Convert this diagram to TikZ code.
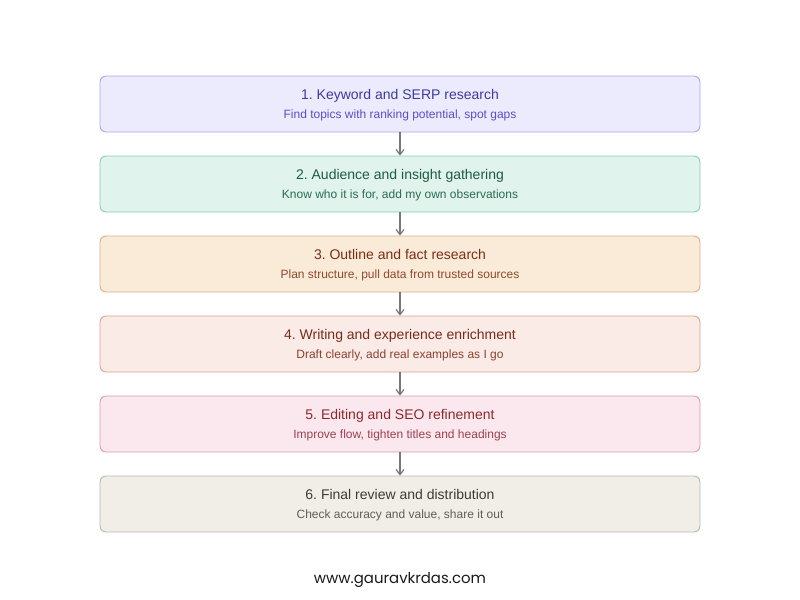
\documentclass[tikz,border=0pt]{standalone}
\usepackage{fontspec}
\setmainfont{Liberation Sans}
\newfontfamily\footfont{Poppins}
\usetikzlibrary{arrows.meta}
\frenchspacing
\definecolor{f1}{HTML}{ECEBFD}\definecolor{b1}{HTML}{ABA5EE}\definecolor{t1}{HTML}{3E3A9E}\definecolor{s1}{HTML}{5A4FC4}
\definecolor{f2}{HTML}{E0F3EC}\definecolor{b2}{HTML}{8DCAB2}\definecolor{t2}{HTML}{1D5C44}\definecolor{s2}{HTML}{2A6D52}
\definecolor{f3}{HTML}{FAEBD8}\definecolor{b3}{HTML}{D6AE90}\definecolor{t3}{HTML}{7A2E16}\definecolor{s3}{HTML}{8C4A2E}
\definecolor{f4}{HTML}{FAEBE6}\definecolor{b4}{HTML}{D4A494}\definecolor{t4}{HTML}{7A2A1C}\definecolor{s4}{HTML}{8A4232}
\definecolor{f5}{HTML}{FBE7EE}\definecolor{b5}{HTML}{D89CAE}\definecolor{t5}{HTML}{8A2A2E}\definecolor{s5}{HTML}{9A4252}
\definecolor{f6}{HTML}{F1EEE8}\definecolor{b6}{HTML}{BAB6AC}\definecolor{t6}{HTML}{3A3C36}\definecolor{s6}{HTML}{5E5E58}
\definecolor{arr}{HTML}{777777}
\tikzset{
  stepbox/.style={draw, rounded corners=4.5pt, minimum width=450pt, minimum height=42pt, line width=0.7pt, inner sep=0pt},
  ttl/.style={anchor=base, inner sep=0pt, font=\fontsize{10.5pt}{12pt}\selectfont},
  sub/.style={anchor=base, inner sep=0pt, font=\fontsize{9pt}{10pt}\selectfont},
  conn/.style={draw=arr, line width=0.9pt, -{Straight Barb[length=3.8pt,width=6pt]}}
}
\begin{document}
\begin{tikzpicture}[x=0.75pt,y=-0.75pt]
\useasboundingbox (0,0) rectangle (800,600);
\foreach \i/\ti/\su in {
 1/{1. Keyword and SERP research}/{Find topics with ranking potential, spot gaps},
 2/{2. Audience and insight gathering}/{Know who it is for, add my own observations},
 3/{3. Outline and fact research}/{Plan structure, pull data from trusted sources},
 4/{4. Writing and experience enrichment}/{Draft clearly, add real examples as I go},
 5/{5. Editing and SEO refinement}/{Improve flow, tighten titles and headings},
 6/{6. Final review and distribution}/{Check accuracy and value, share it out}}{
  \node[stepbox, draw=b\i, fill=f\i] (n\i) at (400,{104+80*(\i-1)}) {};
  \node[ttl, text=t\i] (t\i) at (400,{99+80*(\i-1)}) {\ti};
  \node[sub, text=s\i] (s\i) at (400,{118+80*(\i-1)}) {\su};
}
\foreach \a/\b in {1/2,2/3,3/4,4/5,5/6}{
  \draw[conn] (n\a.south) -- (n\b.north);
}
\node[anchor=base, inner sep=0pt, font=\footfont\fontsize{11.2pt}{13pt}\selectfont, text=black!90] (foot) at (400,583) {www.gauravkrdas.com};
\end{tikzpicture}
\end{document}
